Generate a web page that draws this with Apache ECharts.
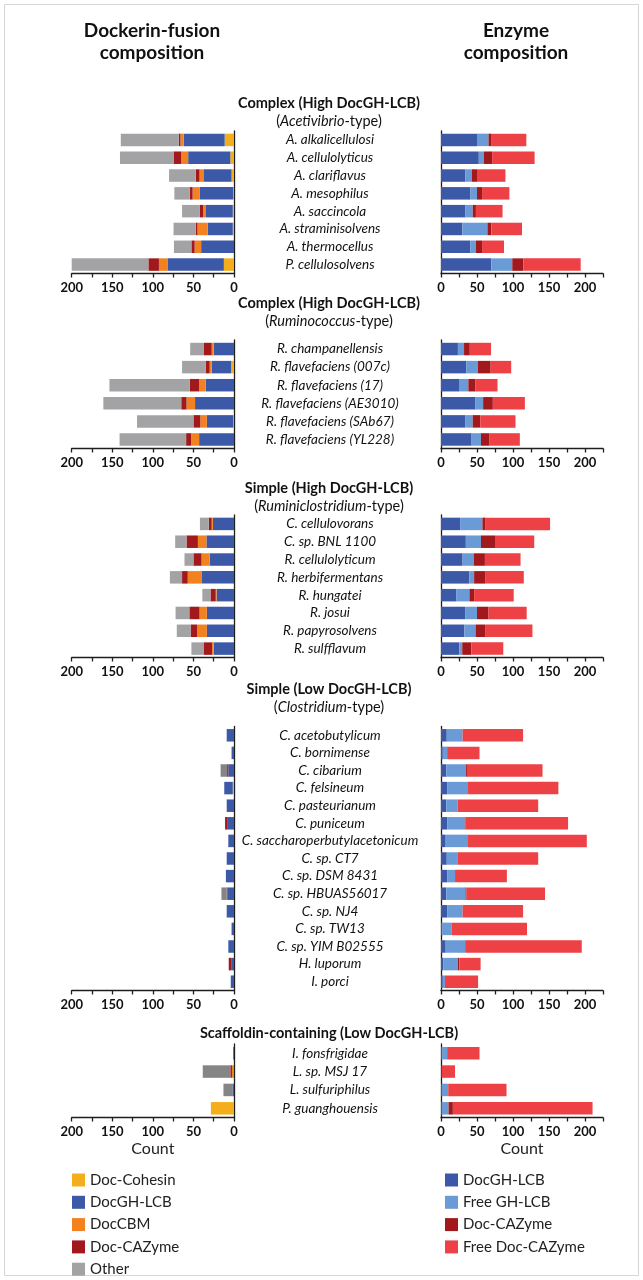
<!DOCTYPE html>
<html>
<head>
<meta charset="utf-8">
<title>Dockerin-fusion and enzyme composition</title>
<script src="https://cdn.jsdelivr.net/npm/echarts@6/dist/echarts.min.js"></script>
<style>
  html, body { margin: 0; padding: 0; background: #fff; }
  #chart { width: 643px; height: 1280px; }
</style>
</head>
<body>
<div id="chart"></div>
<script>
// group 1: Complex (High DocGH-LCB), Acetivibrio-type
var g1Names = ['A. alkalicellulosi', 'A. cellulolyticus', 'A. clariflavus', 'A. mesophilus', 'A. saccincola', 'A. straminisolvens', 'A. thermocellus', 'P. cellulosolvens'];
var g1Cohesin = [11.5, 4.5, 3, 1, 1.5, 1.5, 0, 12.5];
var g1DocGH = [50.5, 52, 34, 41.5, 33, 31, 40.5, 69.5];
var g1CBM = [4, 8.5, 5.5, 8.5, 3.5, 12.5, 8, 10.5];
var g1DocCAZ = [2, 9.5, 4.5, 3.5, 4, 2, 4, 13];
var g1Other = [71.5, 66, 33, 19, 22, 27.5, 21.5, 94.5];
var g1EnzDocGH = [50, 52.5, 34, 41, 34, 29.5, 40.5, 70];
var g1FreeGH = [16, 7, 9, 9, 10, 35, 8, 29];
var g1EnzDocCAZ = [3.5, 11.5, 7, 7, 4.5, 5.5, 8.5, 15.5];
var g1FreeDocCAZ = [49, 59, 39.5, 38, 37, 42.5, 30.5, 79.5];

// group 2: Complex (High DocGH-LCB), Ruminococcus-type
var g2Names = ['R. champanellensis', 'R. flavefaciens (007c)', 'R. flavefaciens (17)', 'R. flavefaciens (AE3010)', 'R. flavefaciens (SAb67)', 'R. flavefaciens (YL228)'];
var g2Cohesin = [0, 3.5, 0, 0, 1, 0];
var g2DocGH = [25, 24, 35, 48, 32.5, 43];
var g2CBM = [2.5, 2.5, 8, 10.5, 8, 10];
var g2DocCAZ = [10, 5, 11.5, 6.5, 8.5, 6];
var g2Other = [16.5, 29, 99, 96, 69.5, 82];
var g2EnzDocGH = [23.5, 35, 25, 48, 33.5, 42.5];
var g2FreeGH = [8.5, 16, 13, 10.5, 10.5, 13];
var g2EnzDocCAZ = [8, 18, 10, 13.5, 10.5, 12];
var g2FreeDocCAZ = [29.5, 28.5, 30.5, 44.5, 49, 42];

// group 3: Simple (High DocGH-LCB), Ruminiclostridium-type
var g3Names = ['C. cellulovorans', 'C. sp. BNL 1100', 'R. cellulolyticum', 'R. herbifermentans', 'R. hungatei', 'R. josui', 'R. papyrosolvens', 'R. sulfflavum'];
var g3Cohesin = [0, 0, 0, 0, 0, 0, 0, 0];
var g3DocGH = [26, 34, 30, 39.5, 21.5, 33.5, 33.5, 25];
var g3CBM = [1.5, 10.5, 10, 17.5, 1, 9, 12, 2];
var g3DocCAZ = [3.5, 14, 10, 7, 6.5, 12.5, 8, 10];
var g3Other = [11, 14, 11, 15, 10, 17, 17, 15.5];
var g3EnzDocGH = [26.5, 34.5, 30, 39.5, 21, 33.5, 32.5, 25.5];
var g3FreeGH = [31, 21, 15.5, 6.5, 18.5, 16.5, 15.5, 4];
var g3EnzDocCAZ = [4.5, 19.5, 15.5, 16, 6.5, 16, 14, 12.5];
var g3FreeDocCAZ = [89.5, 54.5, 49.5, 53, 55, 53, 65, 44.5];

// group 4: Simple (Low DocGH-LCB), Clostridium-type
var g4Names = ['C. acetobutylicum', 'C. bornimense', 'C. cibarium', 'C. felsineum', 'C. pasteurianum', 'C. puniceum', 'C. saccharoperbutylacetonicum', 'C. sp. CT7', 'C. sp. DSM 8431', 'C. sp. HBUAS56017', 'C. sp. NJ4', 'C. sp. TW13', 'C. sp. YIM B02555', 'H. luporum', 'I. porci'];
var g4Cohesin = [0, 0, 0, 1.5, 0, 0, 0, 0, 0, 0, 0, 0, 0, 0, 0];
var g4DocGH = [9, 3, 7, 10.5, 9, 8.5, 7, 9, 10, 8, 9, 3, 7, 3.5, 4];
var g4CBM = [0, 0, 0, 0, 0, 0, 0, 0, 0, 0, 0, 0, 0, 0, 0];
var g4DocCAZ = [0, 0, 1.5, 0, 0, 2.5, 0, 0, 0, 1, 0, 0, 0, 3, 0];
var g4Other = [0, 0, 8, 0, 0, 0, 0, 0, 0, 6.5, 0, 0, 0, 0, 0];
var g4EnzDocGH = [8, 2.5, 7.5, 8.5, 7.5, 9, 6.5, 8, 9, 7.5, 8.5, 2, 6.5, 3, 2.5];
var g4FreeGH = [22, 6, 27, 29, 15.5, 24, 31, 15.5, 10.5, 26.5, 21.5, 12.5, 27, 20.5, 3];
var g4EnzDocCAZ = [0, 0, 1.5, 0, 0, 1, 0, 0, 0, 1.5, 0, 0, 0, 2, 0];
var g4FreeDocCAZ = [84, 45, 105, 125.5, 112, 142.5, 165, 111.5, 72, 109, 84, 105, 162, 29.5, 46];

// group 5: Scaffoldin-containing (Low DocGH-LCB)
var g5Names = ['I. fonsfrigidae', 'L. sp. MSJ 17', 'L. sulfuriphilus', 'P. guanghouensis'];
var g5Cohesin = [0, 0, 0, 28.5];
var g5DocGH = [1, 0, 2, 0];
var g5CBM = [0, 2.5, 0, 0];
var g5DocCAZ = [0, 2, 0, 0];
var g5Other = [0, 34, 11, 0];
var g5EnzDocGH = [1.5, 0, 1, 1];
var g5FreeGH = [7, 0, 9, 9.5];
var g5EnzDocCAZ = [0, 1, 0, 6];
var g5FreeDocCAZ = [45, 18.5, 81, 194];

var leftNames = ['Doc-Cohesin', 'DocGH-LCB', 'DocCBM', 'Doc-CAZyme', 'Other'];
var rightNames = ['DocGH-LCB', 'Free GH-LCB', 'Doc-CAZyme', 'Free Doc-CAZyme'];

var FONT = 'Lato';
var AXIS = '#1e1e1e';
var colors = {
  'Doc-Cohesin': '#f5ae1b',
  'DocGH-LCB': '#3c59a8',
  'DocCBM': '#f2811f',
  'Doc-CAZyme': '#a1191d',
  'Other': '#a3a3a6',
  'Free GH-LCB': '#6b9bd6',
  'Free Doc-CAZyme': '#ee4146'
};

var groups = [
  {names: g1Names, left: [g1Cohesin, g1DocGH, g1CBM, g1DocCAZ, g1Other], right: [g1EnzDocGH, g1FreeGH, g1EnzDocCAZ, g1FreeDocCAZ], top: 131, bottom: 273.5, head: 'Complex (High DocGH-LCB)', sub: 'Acetivibrio', headY: 103, other: '#a3a3a6'},
  {names: g2Names, left: [g2Cohesin, g2DocGH, g2CBM, g2DocCAZ, g2Other], right: [g2EnzDocGH, g2FreeGH, g2EnzDocCAZ, g2FreeDocCAZ], top: 340, bottom: 448.5, head: 'Complex (High DocGH-LCB)', sub: 'Ruminococcus', headY: 303, other: '#a3a3a6'},
  {names: g3Names, left: [g3Cohesin, g3DocGH, g3CBM, g3DocCAZ, g3Other], right: [g3EnzDocGH, g3FreeGH, g3EnzDocCAZ, g3FreeDocCAZ], top: 515, bottom: 657.5, head: 'Simple (High DocGH-LCB)', sub: 'Ruminiclostridium', headY: 488, other: '#a3a3a6'},
  {names: g4Names, left: [g4Cohesin, g4DocGH, g4CBM, g4DocCAZ, g4Other], right: [g4EnzDocGH, g4FreeGH, g4EnzDocCAZ, g4FreeDocCAZ], top: 726.5, bottom: 990.5, head: 'Simple (Low DocGH-LCB)', sub: 'Clostridium', headY: 689, other: '#858585'},
  {names: g5Names, left: [g5Cohesin, g5DocGH, g5CBM, g5DocCAZ, g5Other], right: [g5EnzDocGH, g5FreeGH, g5EnzDocCAZ, g5FreeDocCAZ], top: 1044, bottom: 1117.5, head: 'Scaffoldin-containing (Low DocGH-LCB)', sub: null, headY: 1033, other: '#858585'}
];

var grid = [], xAxis = [], yAxis = [], series = [];
var graphic = [
  {type: 'rect', shape: {x: 4.5, y: 4.5, width: 634, height: 1271}, style: {fill: 'none', stroke: '#d6d6d6', lineWidth: 1}}
];

function axisLabel(maxLabel) {
  return {
    formatter: function (v) { return (v % 50 === 0 && v <= maxLabel) ? String(v) : ''; },
    fontFamily: FONT, fontWeight: 'bold', fontSize: 13, color: '#111', margin: 8,
    showMinLabel: true, showMaxLabel: true
  };
}

groups.forEach(function (g, i) {
  var h = g.bottom - g.top;
  var last = i === groups.length - 1;
  grid.push({left: 71.7, width: 162.3, top: g.top, height: h});
  grid.push({left: 441, width: 162, top: g.top, height: h});

  var line = {show: true, onZero: false, lineStyle: {color: AXIS, width: 1.3}};
  var tick = {show: true, length: 4, lineStyle: {color: AXIS, width: 1.3}};
  xAxis.push({
    gridIndex: 2 * i, type: 'value', inverse: true, min: 0, max: 200, interval: 25,
    axisLine: line, axisTick: tick, axisLabel: axisLabel(200), splitLine: {show: false},
    name: last ? 'Count' : '', nameLocation: 'middle', nameGap: 23,
    nameTextStyle: {fontFamily: FONT, fontSize: 16, color: '#222'}
  });
  xAxis.push({
    gridIndex: 2 * i + 1, type: 'value', min: 0, max: 225, interval: 25,
    axisLine: line, axisTick: tick, axisLabel: axisLabel(200), splitLine: {show: false},
    name: last ? 'Count' : '', nameLocation: 'middle', nameGap: 23,
    nameTextStyle: {fontFamily: FONT, fontSize: 16, color: '#222'}
  });
  yAxis.push({
    gridIndex: 2 * i, type: 'category', data: g.names, inverse: true, position: 'right',
    axisLine: line, axisTick: {show: false}, axisLabel: {show: false}
  });
  yAxis.push({
    gridIndex: 2 * i + 1, type: 'category', data: g.names, inverse: true, position: 'left',
    axisLine: line, axisTick: {show: false},
    axisLabel: {show: true, interval: 0, align: 'center', margin: 111, fontFamily: FONT, fontStyle: 'italic', fontSize: 13.5, color: '#111'}
  });

  g.left.forEach(function (arr, k) {
    var nm = leftNames[k];
    series.push({
      name: nm, type: 'bar', stack: 'L' + i, xAxisIndex: 2 * i, yAxisIndex: 2 * i,
      barWidth: 12.5, data: arr,
      itemStyle: {color: nm === 'Other' ? g.other : colors[nm]}
    });
  });
  g.right.forEach(function (arr, k) {
    var nm = rightNames[k];
    series.push({
      name: nm, type: 'bar', stack: 'R' + i, xAxisIndex: 2 * i + 1, yAxisIndex: 2 * i + 1,
      barWidth: 12.5, data: arr, itemStyle: {color: colors[nm]}
    });
  });

  graphic.push({
    type: 'text', x: 329, y: g.headY,
    style: {text: g.head, font: 'bold 14.5px ' + FONT, fill: '#111', textAlign: 'center', textVerticalAlign: 'middle'}
  });
  if (g.sub) {
    graphic.push({
      type: 'text', x: 329, y: g.headY + 18,
      style: {
        text: '(' + '{i|' + g.sub + '}' + '-type)', font: '14.5px ' + FONT, fill: '#111',
        textAlign: 'center', textVerticalAlign: 'middle',
        rich: {i: {fontStyle: 'italic', fontSize: 14.5, fontFamily: FONT, fill: '#111'}}
      }
    });
  }
});

graphic.push({type: 'text', x: 152, y: 31, style: {text: 'Dockerin-fusion', font: 'bold 19px ' + FONT, fill: '#111', textAlign: 'center', textVerticalAlign: 'middle'}});
graphic.push({type: 'text', x: 152, y: 53, style: {text: 'composition', font: 'bold 19px ' + FONT, fill: '#111', textAlign: 'center', textVerticalAlign: 'middle'}});
graphic.push({type: 'text', x: 516, y: 31, style: {text: 'Enzyme', font: 'bold 19px ' + FONT, fill: '#111', textAlign: 'center', textVerticalAlign: 'middle'}});
graphic.push({type: 'text', x: 516, y: 53, style: {text: 'composition', font: 'bold 19px ' + FONT, fill: '#111', textAlign: 'center', textVerticalAlign: 'middle'}});

var legendText = {fontFamily: FONT, fontSize: 15, color: '#222', lineHeight: 15};

var chart = echarts.init(document.getElementById('chart'), null, {renderer: 'canvas'});
chart.setOption({
  animation: false,
  backgroundColor: '#fff',
  grid: grid,
  xAxis: xAxis,
  yAxis: yAxis,
  series: series,
  graphic: graphic,
  legend: [
    {data: leftNames, orient: 'vertical', left: 72, top: 1172.5, padding: 0, icon: 'rect', itemWidth: 13, itemHeight: 13, itemGap: 7.3, textStyle: legendText},
    {data: rightNames, orient: 'vertical', left: 445, top: 1172.5, padding: 0, icon: 'rect', itemWidth: 13, itemHeight: 13, itemGap: 7.3, textStyle: legendText}
  ]
});
</script>
</body>
</html>
